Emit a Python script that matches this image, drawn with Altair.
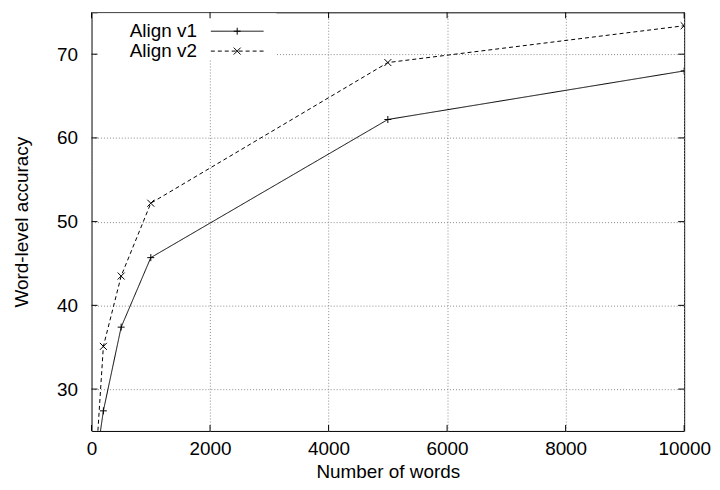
import altair as alt
import pandas as pd

# ---- data ----
words = [100, 200, 500, 1000, 5000, 10000]
align_v1 = [22.5, 27.4, 37.4, 45.7, 62.2, 68.0]
align_v2 = [24.2, 35.1, 43.5, 52.2, 69.0, 73.4]
series_names = ["Align v1", "Align v2"]
x_ticks = [0, 2000, 4000, 6000, 8000, 10000]
y_ticks = [30, 40, 50, 60, 70]

W, H = 596, 421
FONT = "Liberation Sans"
FS = 19

rows = []
for name, vals in zip(series_names, [align_v1, align_v2]):
    for xv, yv in zip(words, vals):
        rows.append({"series": name, "words": xv, "acc": yv})
df = pd.DataFrame(rows)

PLUS = "M-1,0L1,0M0,-1L0,1"
CROSS = "M-1,-1L1,1M-1,1L1,-1"
dash_scale = alt.Scale(domain=series_names, range=[[1, 0], [4, 3]])
shape_scale = alt.Scale(domain=series_names, range=[PLUS, CROSS])

xscale = alt.Scale(domain=[0, 10000], nice=False, zero=False)
yscale = alt.Scale(domain=[25, 75], nice=False, zero=False)

common_axis = dict(
    grid=True, ticks=False, tickSize=0, domain=False,
    labelFont=FONT, labelFontSize=FS, titleFont=FONT, titleFontSize=FS,
    titleFontWeight="normal", labelColor="black", titleColor="black",
    gridColor="#8a8a8a", gridDash=[1, 2], gridWidth=1, labelFlush=False,
)
x_axis = alt.Axis(values=x_ticks, title="Number of words", labelPadding=9,
                  titlePadding=4, format="d", **common_axis)
y_axis = alt.Axis(values=y_ticks, title="Word-level accuracy", labelPadding=14,
                  titlePadding=25, **common_axis)

lines = alt.Chart(df).mark_line(clip=True, color="black", strokeWidth=1).encode(
    x=alt.X("words:Q", scale=xscale, axis=x_axis),
    y=alt.Y("acc:Q", scale=yscale, axis=y_axis),
    strokeDash=alt.StrokeDash("series:N", scale=dash_scale, legend=None),
    detail="series:N",
)

points = alt.Chart(df).mark_point(
    clip=True, filled=False, color="black", strokeWidth=1, size=49, opacity=1
).encode(
    x=alt.X("words:Q", scale=xscale, axis=x_axis),
    y=alt.Y("acc:Q", scale=yscale, axis=y_axis),
    shape=alt.Shape("series:N", scale=shape_scale, legend=None),
)

one = pd.DataFrame({"k": [0]})
legend_bg = alt.Chart(one).mark_rect(fill="white").encode(
    x=alt.value(6), x2=alt.value(186), y=alt.value(1), y2=alt.value(47)
)

legend_layers = []
row_y = [19, 39]
for i, name in enumerate(series_names):
    ldf = pd.DataFrame({"series": [name]})
    t = alt.Chart(ldf).mark_text(
        align="right", baseline="middle", font=FONT, fontSize=FS, color="black"
    ).encode(text="series:N", x=alt.value(106), y=alt.value(row_y[i]))
    r = alt.Chart(ldf).mark_rule(
        color="black", strokeWidth=1, strokeDash=[1, 0] if i == 0 else [4, 3]
    ).encode(x=alt.value(120), x2=alt.value(173), y=alt.value(row_y[i]))
    p = alt.Chart(ldf).mark_point(
        filled=False, color="black", strokeWidth=1, size=49, opacity=1,
        shape=PLUS if i == 0 else CROSS,
    ).encode(x=alt.value(146.5), y=alt.value(row_y[i]))
    legend_layers += [t, r, p]

xt = pd.DataFrame({"words": x_ticks})
yt = pd.DataFrame({"acc": y_ticks})
tick_style = dict(color="black", strokeWidth=1)
ticks_bottom = alt.Chart(xt).mark_rule(**tick_style).encode(
    x=alt.X("words:Q", scale=xscale, axis=x_axis), y=alt.value(H), y2=alt.value(H - 6)
)
ticks_top = alt.Chart(xt).mark_rule(**tick_style).encode(
    x=alt.X("words:Q", scale=xscale, axis=x_axis), y=alt.value(0), y2=alt.value(6)
)
ticks_left = alt.Chart(yt).mark_rule(**tick_style).encode(
    y=alt.Y("acc:Q", scale=yscale, axis=y_axis), x=alt.value(0), x2=alt.value(6)
)
ticks_right = alt.Chart(yt).mark_rule(**tick_style).encode(
    y=alt.Y("acc:Q", scale=yscale, axis=y_axis), x=alt.value(W), x2=alt.value(W - 6)
)

chart = (
    alt.layer(
        lines, points, legend_bg, *legend_layers,
        ticks_bottom, ticks_top, ticks_left, ticks_right,
    )
    .properties(
        width=W, height=H,
        autosize=alt.AutoSizeParams(type="none"),
        padding={"left": 84, "top": 3, "right": 28, "bottom": 50},
        background="white",
    )
    .configure_view(stroke="black", strokeWidth=1)
)

chart.save("out.html", embed_options={"renderer": "svg", "actions": False})
